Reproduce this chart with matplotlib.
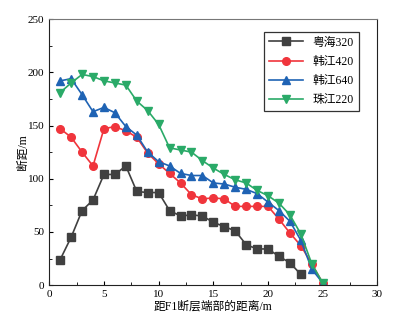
import numpy as np
import matplotlib.pyplot as plt
from matplotlib.ticker import MultipleLocator

plt.rcParams['font.family'] = ['Liberation Serif', 'Noto Sans CJK SC']
plt.rcParams['axes.unicode_minus'] = False

# distance from the F1 fault tip (m)
x = np.arange(1, 26)

# fault throw (m) for each section
yuehai320 = [24, 45, 70, 80, 104, 104, 112, 88, 87, 87, 70, 65, 66, 65, 59, 55,
             51, 38, 34, 34, 27, 21, 10]
hanjiang420 = [147, 139, 125, 112, 147, 149, 145, 139, 124, 114, 105, 96, 85, 81,
               82, 81, 74, 74, 74, 74, 62, 49, 37, 20, 2]
hanjiang640 = [192, 194, 179, 163, 167, 162, 149, 141, 125, 116, 112, 105, 103,
               103, 96, 95, 92, 90, 86, 78, 70, 60, 42, 15, 2]
zhujiang220 = [181, 190, 198, 196, 192, 190, 188, 173, 164, 151, 129, 127, 125,
               117, 110, 104, 99, 96, 89, 84, 77, 66, 48, 20, 2]

fig = plt.figure(figsize=(3.94, 3.24), dpi=100)
ax = fig.add_axes([0.125, 0.12, 0.833, 0.821])

ax.plot(x[:len(yuehai320)], yuehai320, color='#404040', marker='s', ms=5.5, lw=1.2, label='粤海320')
ax.plot(x, hanjiang420, color='#f0353c', marker='o', ms=5.5, lw=1.2, label='韩江420')
ax.plot(x, hanjiang640, color='#1f63b4', marker='^', ms=6, lw=1.2, label='韩江640')
ax.plot(x, zhujiang220, color='#2aaa68', marker='v', ms=6, lw=1.2, label='珠江220')

ax.set_xlim(0, 30)
ax.set_ylim(0, 250)
ax.xaxis.set_major_locator(MultipleLocator(5))
ax.xaxis.set_minor_locator(MultipleLocator(2.5))
ax.yaxis.set_major_locator(MultipleLocator(50))
ax.yaxis.set_minor_locator(MultipleLocator(25))
ax.tick_params(which='both', direction='in', labelsize=8, top=False, right=False)
ax.tick_params(which='major', length=3)
ax.tick_params(which='minor', length=2)
ax.spines['top'].set_color('#777777')
for s in ['left', 'bottom', 'right']:
    ax.spines[s].set_color('#222222')

ax.set_xlabel('距F1断层端部的距离/m', fontsize=8.5, labelpad=1)
ax.set_ylabel('断距/m', fontsize=8.5, labelpad=-1)

leg = ax.legend(loc='upper right', bbox_to_anchor=(0.943, 0.952), borderaxespad=0,
                fontsize=8.5, handlelength=2.9, fancybox=False, framealpha=1,
                edgecolor='#333333', labelspacing=0.6)
leg.get_frame().set_linewidth(0.9)

fig.savefig('out.png', dpi=100)
